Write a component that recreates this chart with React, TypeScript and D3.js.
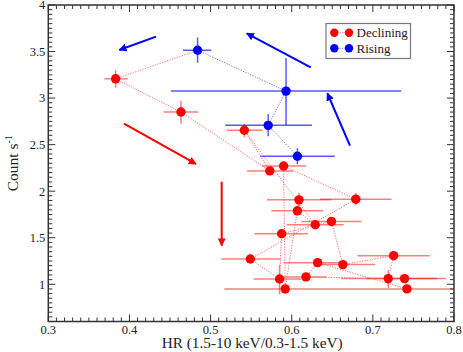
import React from "react";
import * as d3 from "d3";

// Rising (blue) points in time order
const riseX = [0.607, 0.571, 0.593, 0.484];
const riseY = [2.375, 2.707, 3.075, 3.514];
const riseXLo = [0.561, 0.518, 0.451, 0.466];
const riseXHi = [0.653, 0.625, 0.735, 0.501];
const riseYLo = [2.29, 2.59, 2.71, 3.38];
const riseYHi = [2.46, 2.83, 3.43, 3.65];

// Declining (red) points in time order
const declX = [0.383, 0.4635, 0.573, 0.5416, 0.629, 0.607, 0.609, 0.592, 0.59, 0.679, 0.549, 0.585, 0.5876, 0.649, 0.663, 0.7256, 0.719, 0.6176, 0.632, 0.742, 0.739];
const declY = [3.207, 2.85, 2.218, 2.654, 1.639, 1.789, 1.907, 0.95, 2.271, 1.914, 1.271, 1.057, 1.543, 1.675, 1.211, 1.307, 1.061, 1.079, 1.232, 0.95, 1.061];
const declXLo = [0.369, 0.442, 0.545, 0.52, 0.594, 0.575, 0.5695, 0.517, 0.563, 0.635, 0.513, 0.553, 0.554, 0.612, 0.627, 0.681, 0.661, 0.585, 0.59, 0.668, 0.692];
const declXHi = [0.398, 0.485, 0.602, 0.564, 0.664, 0.639, 0.649, 0.668, 0.618, 0.723, 0.586, 0.612, 0.62, 0.686, 0.703, 0.77, 0.779, 0.643, 0.664, 0.83, 0.79];
const declYLo = [3.11, 2.725, 2.19, 2.58, 1.61, 1.76, 1.84, 0.9, 2.24, 1.85, 1.24, 0.89, 1.51, 1.65, 1.18, 1.27, 0.96, 1.05, 1.2, 0.92, 1.03];
const declYHi = [3.3, 2.97, 2.25, 2.725, 1.67, 1.82, 1.98, 1.0, 2.3, 1.98, 1.3, 1.21, 1.58, 1.7, 1.24, 1.34, 1.15, 1.11, 1.26, 0.98, 1.09];

// Trend arrows [x1, y1, x2, y2] in data units
const blueArrows = [
  [0.4327, 3.66, 0.3875, 3.517],
  [0.6234, 3.331, 0.5445, 3.696],
  [0.6718, 2.489, 0.6439, 3.052],
];
const redArrows = [
  [0.3933, 2.725, 0.482, 2.292],
  [0.5137, 2.102, 0.5137, 1.415],
];

const xTickLabels = ["0.3", "0.4", "0.5", "0.6", "0.7", "0.8"];
const yTickLabels = ["1", "1.5", "2", "2.5", "3", "3.5", "4"];
const legendLabels = ["Declining", "Rising"];

const W = 463;
const H = 352;
const L = 48.3, R = 454, T = 5, B = 321.5;
const FONT = "'Liberation Serif', 'Times New Roman', serif";
const RED = "#ff0000";
const BLUE = "#0000ff";

export default function App() {
  const x = d3.scaleLinear().domain([0.3, 0.8]).range([L, R]);
  const y = d3.scaleLinear().domain([0.6, 4]).range([B, T]);

  const xMajor = xTickLabels.map((t) => +t);
  const xMinor = d3.range(30, 81).map((v) => v / 100).filter((v) => Math.round(v * 100) % 10 !== 0);
  const yMajor = yTickLabels.map((t) => +t);
  const yMinor = d3.range(12, 81).map((v) => v / 20).filter((v) => Math.round(v * 20) % 10 !== 0);

  const axisColor = "#333";
  const majorLen = 7;
  const minorLen = 4;

  const line = d3.line<[number, number]>().x((d) => x(d[0])).y((d) => y(d[1]));

  const redPts: [number, number][] = declX.map((v, i) => [v, declY[i]]);
  const bluePts: [number, number][] = riseX.map((v, i) => [v, riseY[i]]);

  const errBars = (xs: number[], ys: number[], xlo: number[], xhi: number[], ylo: number[], yhi: number[], color: string, op: number) =>
    xs.map((v, i) => (
      <g key={i} stroke={color} strokeOpacity={op} strokeWidth={1.5}>
        <line x1={x(xlo[i])} x2={x(xhi[i])} y1={y(ys[i])} y2={y(ys[i])} />
        <line x1={x(v)} x2={x(v)} y1={y(ylo[i])} y2={y(yhi[i])} />
      </g>
    ));

  return (
    <svg width={W} height={H} style={{ position: "absolute", left: 0, top: 0, background: "#fff" }} fontFamily={FONT}>
      <defs>
        <clipPath id="plot">
          <rect x={L} y={T} width={R - L} height={B - T} />
        </clipPath>
        <marker id="ahBlue" viewBox="0 0 10 10" refX="9" refY="5" markerWidth="4" markerHeight="4" orient="auto">
          <path d="M0,0 L10,5 L0,10 z" fill={BLUE} />
        </marker>
        <marker id="ahRed" viewBox="0 0 10 10" refX="9" refY="5" markerWidth="4" markerHeight="4" orient="auto">
          <path d="M0,0 L10,5 L0,10 z" fill={RED} />
        </marker>
      </defs>

      <g clipPath="url(#plot)">
        {errBars(declX, declY, declXLo, declXHi, declYLo, declYHi, RED, 0.5)}
        {errBars(riseX, riseY, riseXLo, riseXHi, riseYLo, riseYHi, BLUE, 0.65)}
        <path d={line(bluePts) || ""} fill="none" stroke="#7070ff" strokeWidth={1} strokeDasharray="1.2,1.4" />
        <path d={line([bluePts[bluePts.length - 1], ...redPts]) || ""} fill="none" stroke="#ff6a6a" strokeWidth={1} strokeDasharray="1.2,1.4" />
        {redPts.map((p, i) => (
          <circle key={"r" + i} cx={x(p[0])} cy={y(p[1])} r={4.7} fill={RED} />
        ))}
        {bluePts.map((p, i) => (
          <circle key={"b" + i} cx={x(p[0])} cy={y(p[1])} r={4.7} fill={BLUE} />
        ))}
        {blueArrows.map((a, i) => (
          <line key={"ba" + i} x1={x(a[0])} y1={y(a[1])} x2={x(a[2])} y2={y(a[3])} stroke={BLUE} strokeWidth={2} markerEnd="url(#ahBlue)" />
        ))}
        {redArrows.map((a, i) => (
          <line key={"ra" + i} x1={x(a[0])} y1={y(a[1])} x2={x(a[2])} y2={y(a[3])} stroke={RED} strokeWidth={2} markerEnd="url(#ahRed)" />
        ))}
      </g>

      {/* frame */}
      <rect x={L} y={T} width={R - L} height={B - T} fill="none" stroke={axisColor} strokeWidth={1.5} />

      {/* ticks */}
      <g stroke={axisColor} strokeWidth={1}>
        {xMinor.map((v, i) => (
          <g key={"xm" + i}>
            <line x1={x(v)} x2={x(v)} y1={B} y2={B - minorLen} />
            <line x1={x(v)} x2={x(v)} y1={T} y2={T + minorLen} />
          </g>
        ))}
        {xMajor.map((v, i) => (
          <g key={"xM" + i}>
            <line x1={x(v)} x2={x(v)} y1={B} y2={B - majorLen} />
            <line x1={x(v)} x2={x(v)} y1={T} y2={T + majorLen} />
          </g>
        ))}
        {yMinor.map((v, i) => (
          <g key={"ym" + i}>
            <line x1={L} x2={L + minorLen} y1={y(v)} y2={y(v)} />
            <line x1={R} x2={R - minorLen} y1={y(v)} y2={y(v)} />
          </g>
        ))}
        {yMajor.map((v, i) => (
          <g key={"yM" + i}>
            <line x1={L} x2={L + majorLen} y1={y(v)} y2={y(v)} />
            <line x1={R} x2={R - majorLen} y1={y(v)} y2={y(v)} />
          </g>
        ))}
      </g>

      {/* tick labels */}
      <g fontSize={12.5} fill="#222">
        {xTickLabels.map((t, i) => (
          <text key={t} x={x(xMajor[i])} y={B + 12} textAnchor="middle">{t}</text>
        ))}
        {yTickLabels.map((t, i) => (
          <text key={t} x={L - 3} y={y(yMajor[i])} dy="0.35em" textAnchor="end">{t}</text>
        ))}
      </g>

      {/* axis titles */}
      <text x={(L + R) / 2 + 1} y={347.5} textAnchor="middle" fontSize={15.3} fill="#222">HR (1.5-10 keV/0.3-1.5 keV)</text>
      <text transform={`translate(18, ${(T + B) / 2}) rotate(-90)`} textAnchor="middle" fontSize={15.5} fill="#222">
        Count s<tspan dy={-6} fontSize={10}>-1</tspan>
      </text>

      {/* legend */}
      <g>
        <rect x={326} y={23.5} width={84.5} height={35} fill="#fff" stroke="#777" strokeWidth={1.2} />
        {[RED, BLUE].map((c, i) => {
          const cy = 32.7 + i * 15.6;
          return (
            <g key={c}>
              <line x1={334.3} x2={349} y1={cy} y2={cy} stroke={c === RED ? "#ff6a6a" : "#7070ff"} strokeWidth={1} strokeDasharray="1.2,1.4" />
              <circle cx={334.3} cy={cy} r={4.2} fill={c} />
              <circle cx={349} cy={cy} r={4.2} fill={c} />
              <text x={356.5} y={cy} dy="0.35em" fontSize={13} fill="#222">{legendLabels[i]}</text>
            </g>
          );
        })}
      </g>
    </svg>
  );
}
